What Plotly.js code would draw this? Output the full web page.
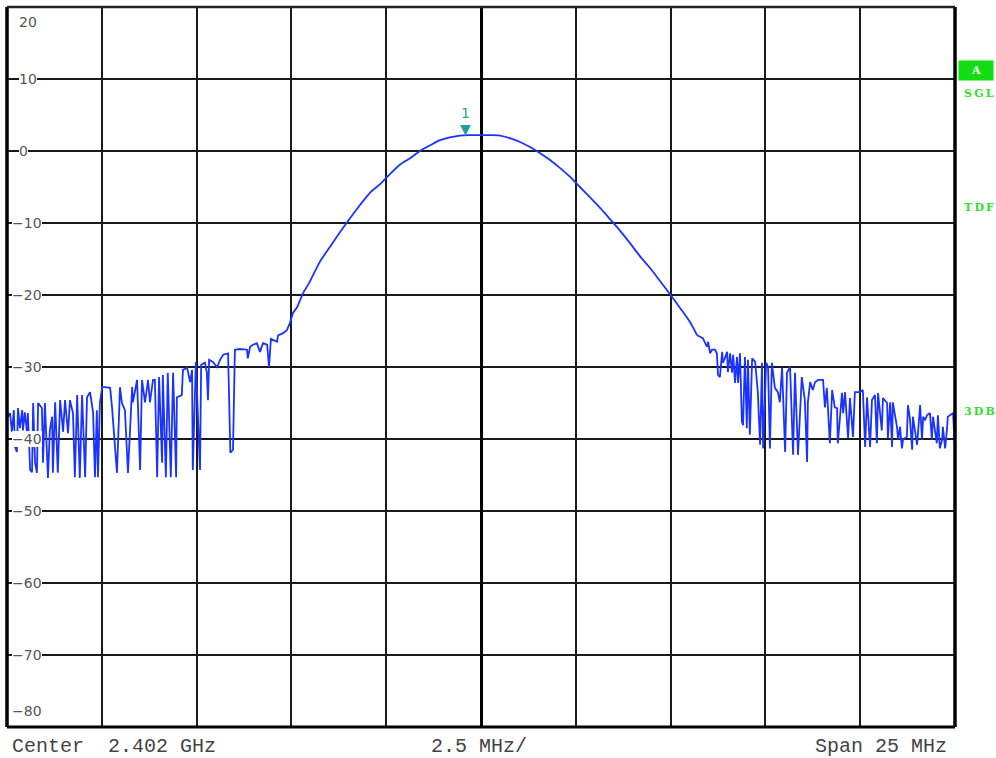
<!DOCTYPE html>
<html><head><meta charset="utf-8">
<script src="https://cdn.plot.ly/plotly-3.0.1.min.js"></script>
<style>html,body{margin:0;padding:0;background:#fff;} #chart{width:996px;height:758px;}</style>
</head><body><div id="chart"></div>
<script>
// Frequency offsets from centre (MHz) and levels (dB)
const leftFreqMHz = [
 -12.50,-12.47,-12.42,-12.37,-12.32,-12.29,-12.24,-12.21,-12.16,-12.10,
 -12.08,-12.03,-11.97,-11.95,-11.89,-11.84,-11.81,-11.76,-11.71,-11.68,
 -11.58,-11.55,-11.50,-11.42,-11.37,-11.31,-11.29,-11.23,-11.16,-11.10,
 -11.02,-10.97,-10.89,-10.84,-10.76,-10.71,-10.65,-10.58,-10.52,-10.44,
 -10.39,-10.31,-10.23,-10.18,-10.13,-10.10,-10.05,-9.99,-9.92,-9.78,
 -9.73,-9.70,-9.60,-9.52,-9.47,-9.39,-9.31,-9.20,-9.18,-9.07,
 -8.99,-8.94,-8.86,-8.78,-8.73,-8.65,-8.60,-8.54,-8.49,-8.41,
 -8.39,-8.31,-8.26,-8.18,-8.12,-8.04,-8.02,-7.89,-7.86,-7.75,
 -7.67,-7.62,-7.60,-7.52,-7.46,-7.41,-7.38,-7.28,-7.23,-7.20,
 -7.17,-7.07,-6.96,-6.88,-6.80,-6.67,-6.61,-6.54,-6.49,-6.36,
 -6.17,-6.15,-6.09,-6.01,-5.91,-5.83,-5.75,-5.64,-5.59,-5.54,
 -5.38,-5.35,-5.22,-5.12,-5.04,-4.96,-4.85,-4.77,-4.69];
const leftLevelDb = [
 -36.0,-36.9,-36.4,-39.0,-36.0,-41.1,-41.8,-35.7,-38.5,-36.0,
 -38.8,-36.3,-39.2,-36.4,-44.3,-44.6,-35.0,-43.3,-44.7,-35.0,
 -35.7,-43.3,-35.0,-45.4,-38.8,-36.9,-44.7,-34.9,-44.7,-34.6,
 -39.0,-34.6,-39.2,-34.6,-36.4,-45.3,-33.9,-45.4,-33.9,-45.3,
 -34.2,-33.5,-36.3,-45.3,-36.0,-45.3,-35.0,-32.8,-32.8,-32.9,
 -35.6,-37.8,-44.7,-32.8,-35.0,-36.0,-44.7,-32.8,-34.9,-31.8,
 -44.3,-31.8,-34.9,-31.8,-34.9,-31.8,-31.8,-45.3,-31.4,-43.3,
 -31.1,-45.3,-30.8,-45.3,-30.8,-45.3,-34.2,-33.9,-30.4,-30.1,
 -32.1,-30.4,-44.3,-29.3,-38.8,-44.3,-29.7,-29.4,-30.8,-34.6,
 -29.0,-29.3,-30.0,-29.0,-28.3,-28.1,-41.9,-41.5,-27.6,-27.5,
 -27.6,-28.8,-27.2,-26.9,-26.7,-27.9,-26.7,-26.9,-30.0,-26.1,
 -26.5,-25.6,-25.3,-24.9,-23.9,-22.5,-21.7,-20.7,-19.7];

const lobeFreqMHz = [-4.51,-4.25,-3.98,-3.72,-3.45,-3.19,-2.93,-2.66,-2.40,-2.14,-1.87,-1.61,-1.34,-1.08,-0.82,-0.55,-0.29,-0.03,0.24,0.50,0.76,1.03,1.29,1.56,1.82,2.08,2.35,2.61,2.87,3.14,3.40,3.67,3.93,4.19,4.46,4.72,4.98,5.25,5.51];
const lobeLevelDb = [-18.1,-15.4,-13.3,-11.3,-9.3,-7.5,-5.8,-4.6,-3.2,-1.9,-1.0,0.0,0.8,1.5,1.9,2.15,2.2,2.2,2.2,2.15,1.8,1.25,0.55,-0.3,-1.25,-2.35,-3.6,-5.0,-6.4,-7.9,-9.45,-11.1,-12.8,-14.6,-16.25,-18.05,-19.85,-21.8,-23.75];

const rightFreqMHz = [
 5.70,5.85,5.96,5.99,6.04,6.09,6.17,6.22,6.25,6.30,
 6.36,6.38,6.43,6.49,6.51,6.57,6.62,6.65,6.70,6.75,
 6.78,6.83,6.88,6.91,6.96,7.01,7.04,7.09,7.15,7.23,
 7.30,7.36,7.41,7.44,7.52,7.57,7.62,7.67,7.75,7.83,
 7.88,7.94,8.02,8.07,8.15,8.23,8.28,8.36,8.46,8.54,
 8.60,8.62,8.68,8.75,8.81,8.89,9.02,9.07,9.12,9.20,
 9.26,9.33,9.39,9.41,9.52,9.55,9.60,9.68,9.73,9.81,
 9.86,9.99,10.07,10.13,10.18,10.26,10.31,10.39,10.44,10.47,
 10.57,10.60,10.71,10.73,10.79,10.84,10.86,10.97,11.00,11.05,
 11.10,11.13,11.23,11.26,11.31,11.37,11.39,11.50,11.58,11.63,
 11.66,11.71,11.76,11.84,11.89,11.92,12.02,12.05,12.10,12.16,
 12.18,12.24,12.29,12.31,12.37,12.45,12.50];
const rightLevelDb = [
 -25.6,-26.0,-27.2,-26.5,-28.1,-27.6,-27.6,-28.1,-31.1,-31.4,
 -27.9,-29.4,-28.8,-27.9,-30.7,-28.1,-30.8,-28.3,-32.2,-28.6,
 -32.2,-28.1,-37.6,-38.1,-28.6,-38.5,-29.0,-39.4,-28.8,-29.3,
 -33.5,-40.8,-29.4,-41.3,-29.4,-30.0,-41.3,-29.4,-32.9,-33.5,
 -34.9,-30.1,-41.8,-30.8,-30.0,-42.2,-30.8,-42.2,-31.4,-34.6,
 -43.2,-34.9,-32.1,-33.2,-32.1,-31.8,-31.8,-35.6,-32.9,-40.6,
 -33.2,-35.6,-35.7,-40.6,-33.6,-36.4,-33.5,-39.9,-34.3,-39.7,
 -33.5,-33.5,-33.2,-41.1,-34.2,-41.1,-34.6,-33.9,-40.6,-33.6,
 -38.8,-34.3,-35.0,-39.9,-34.9,-41.1,-34.9,-38.3,-40.1,-38.3,
 -41.3,-40.1,-39.7,-35.3,-37.1,-41.5,-36.9,-40.8,-35.3,-40.1,
 -36.9,-37.4,-36.7,-36.4,-40.1,-36.9,-40.6,-36.7,-41.3,-40.1,
 -38.3,-41.3,-38.5,-36.9,-36.7,-36.4,-41.5];

const yTickValues = [20,10,0,-10,-20,-30,-40,-50,-60,-70,-80];
const markerFreqMHz = [-0.40];
const markerLevelDb = [2.2];
const markerLabels = ['1'];
const footerLabels = ['Center  2.402 GHz', '2.5 MHz/', 'Span 25 MHz'];
const statusBadge = 'A';
const statusLabels = ['SGL', 'TDF', '3DB'];

const traceColor = '#1a33ff';
const nL = leftFreqMHz.length;
const traces = [
  {type: 'scatter', mode: 'lines', x: leftFreqMHz, y: leftLevelDb,
   line: {color: traceColor, width: 1.8}, hoverinfo: 'skip', showlegend: false},
  {type: 'scatter', mode: 'lines',
   x: [leftFreqMHz[nL - 1]].concat(lobeFreqMHz, [rightFreqMHz[0]]),
   y: [leftLevelDb[nL - 1]].concat(lobeLevelDb, [rightLevelDb[0]]),
   line: {color: traceColor, width: 1.8, shape: 'spline', smoothing: 0.8}, hoverinfo: 'skip', showlegend: false},
  {type: 'scatter', mode: 'lines', x: rightFreqMHz, y: rightLevelDb,
   line: {color: traceColor, width: 1.8}, hoverinfo: 'skip', showlegend: false}
];

// plot area in pixels: x 7..955, y 7..727
const plotTop = 7, plotH = 720;
const py = p => 1 - (p - plotTop) / plotH;

const annotations = [];
const shapes = [];
const tickFont = {family: 'DejaVu Sans', size: 14, color: '#555'};
yTickValues.forEach((v, i) => {
  const txt = v < 0 ? '\u2212' + Math.abs(v) : String(v);
  const first = i === 0, last = i === yTickValues.length - 1;
  const yshift = first ? -15 : (last ? 16 : 0);
  annotations.push({xref: 'paper', yref: 'y', x: 0, y: v, xanchor: 'left', yanchor: 'middle',
    xshift: v < 0 ? 5 : 12, yshift: yshift, text: txt, showarrow: false, font: tickFont,
    bgcolor: (first || last) ? 'rgba(0,0,0,0)' : '#ffffff', borderpad: 0, borderwidth: 0});
});

// marker 1
markerFreqMHz.forEach((f, i) => {
  annotations.push({x: f, y: markerLevelDb[i], xref: 'x', yref: 'y', text: '\u25BC', showarrow: false,
    yanchor: 'bottom', yshift: -4, font: {family: 'DejaVu Sans', size: 14, color: '#1f9e9e'}});
  annotations.push({x: f, y: markerLevelDb[i], xref: 'x', yref: 'y', text: markerLabels[i], showarrow: false,
    yanchor: 'bottom', yshift: 12, font: {family: 'DejaVu Sans', size: 14, color: '#2aa0a0'}});
});

// right-side status labels
const spaced = s => s.split('').join('\u2009');
annotations.push({xref: 'paper', yref: 'paper', x: 1, y: py(70), xanchor: 'center', yanchor: 'middle',
  xshift: 21, text: '<b>' + statusBadge + '</b>', showarrow: false, bgcolor: '#11dd11',
  width: 32, height: 17, borderpad: 1,
  font: {family: 'DejaVu Serif', size: 11, color: '#ffffff'}});
const statusY = [93, 207, 411];
statusLabels.forEach((s, i) => {
  annotations.push({xref: 'paper', yref: 'paper', x: 1, y: py(statusY[i]), xanchor: 'center', yanchor: 'middle',
    xshift: 24, text: '<b>' + spaced(s) + '</b>', showarrow: false,
    font: {family: 'DejaVu Serif', size: 11, color: '#33dd33'}});
});

// footer
const footFont = {family: 'Liberation Mono', size: 20, color: '#444'};
annotations.push({xref: 'paper', yref: 'paper', x: 0, y: 0, xanchor: 'left', yanchor: 'middle', xshift: 3, yshift: -19,
  text: footerLabels[0].replace(/ /g, '&nbsp;'), showarrow: false, font: footFont});
annotations.push({xref: 'paper', yref: 'paper', x: 0.5, y: 0, xanchor: 'center', yanchor: 'middle', xshift: -2, yshift: -19,
  text: footerLabels[1].replace(/ /g, '&nbsp;'), showarrow: false, font: footFont});
annotations.push({xref: 'paper', yref: 'paper', x: 1, y: 0, xanchor: 'right', yanchor: 'middle', xshift: -6, yshift: -19,
  text: footerLabels[2].replace(/ /g, '&nbsp;'), showarrow: false, font: footFont});

// frame
shapes.push({type: 'line', xref: 'paper', yref: 'paper', x0: 0, x1: 0, y0: 0, y1: 1, line: {color: '#000', width: 3.5}});
shapes.push({type: 'line', xref: 'paper', yref: 'paper', x0: 1, x1: 1, y0: 0, y1: 1, line: {color: '#000', width: 3.5}});
shapes.push({type: 'line', xref: 'paper', yref: 'paper', x0: 0, x1: 1, y0: 0, y1: 0, line: {color: '#000', width: 3}});
shapes.push({type: 'line', xref: 'paper', yref: 'paper', x0: 0, x1: 1, y0: 1, y1: 1, line: {color: '#222', width: 2.5}});

const layout = {
  width: 996, height: 758,
  margin: {l: 7, r: 41, t: 7, b: 31, pad: 0},
  paper_bgcolor: '#ffffff', plot_bgcolor: '#ffffff',
  showlegend: false, hovermode: false,
  xaxis: {range: [-12.5, 12.5], tick0: 0, dtick: 2.5, showgrid: true, gridcolor: '#1a1a1a', gridwidth: 2,
    zeroline: true, zerolinecolor: '#000', zerolinewidth: 3, showticklabels: false, ticks: '', showline: false, fixedrange: true},
  yaxis: {range: [-80, 20], tick0: 0, dtick: 10, showgrid: true, gridcolor: '#1a1a1a', gridwidth: 2,
    zeroline: false, showticklabels: false, ticks: '', showline: false, fixedrange: true},
  annotations: annotations,
  shapes: shapes
};

Plotly.newPlot('chart', traces, layout, {staticPlot: true, displayModeBar: false});
</script>
</body></html>
